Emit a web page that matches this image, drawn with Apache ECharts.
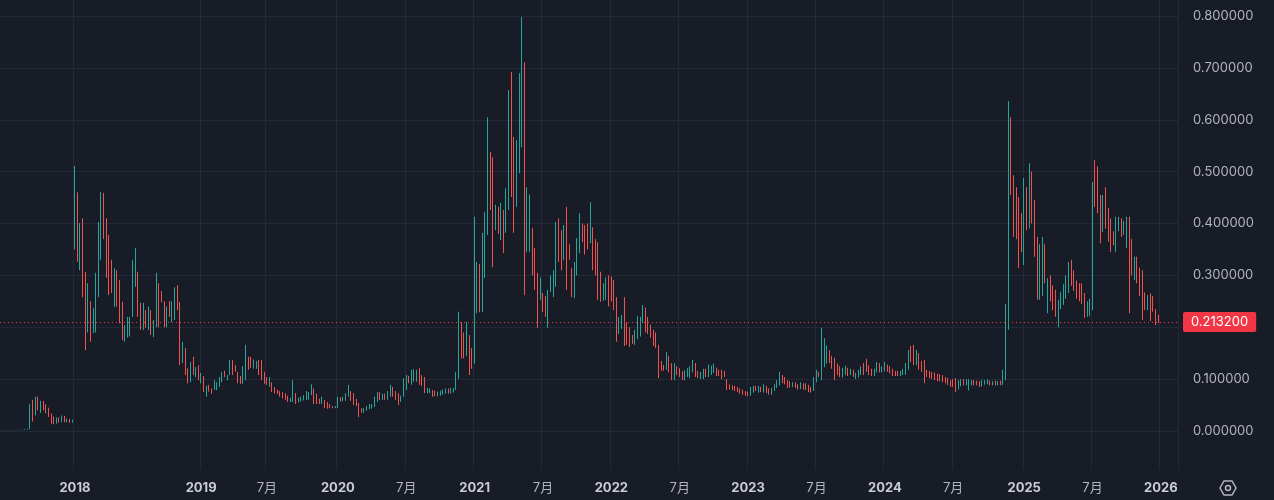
<!DOCTYPE html>
<html>
<head>
<meta charset="utf-8">
<title>Weekly candles</title>
<script src="https://cdn.jsdelivr.net/npm/echarts@6/dist/echarts.min.js"></script>
<style>
  html, body { margin: 0; padding: 0; background: #181c27; }
  #chart { width: 1274px; height: 500px; }
</style>
</head>
<body>
<div id="chart"></div>
<script>
  // weekly bars, Monday dates; July 2018 has no bars
  const firstWeek = '2017-06-19'
  const lastWeek = '2026-02-16'
  const missingWeeks = ['2018-07-02', '2018-07-09', '2018-07-16', '2018-07-23', '2018-07-30']

  // [open, close, low, high]
  const candles2017 = [
    [0.001,0.0012,0.0008,0.0015],[0.0012,0.0011,0.0009,0.0014],[0.0011,0.0013,0.001,0.0016],[0.0013,0.0012,0.001,0.0015],
    [0.0012,0.0015,0.0011,0.0018],[0.0015,0.0014,0.0012,0.0019],[0.0014,0.0016,0.0013,0.002],[0.0016,0.0018,0.0015,0.0022],
    [0.0018,0.0021,0.0016,0.0026],[0.0021,0.003,0.0019,0.0034],[0.003,0.0038,0.0026,0.0045],[0.0038,0.048,0.0035,0.052],
    [0.048,0.036,0.018,0.06],[0.036,0.06,0.03,0.066],[0.06,0.045,0.04,0.066],[0.045,0.055,0.035,0.058],
    [0.055,0.046,0.04,0.058],[0.046,0.038,0.034,0.052],[0.038,0.03,0.027,0.045],[0.03,0.024,0.014,0.034],
    [0.024,0.018,0.013,0.028],[0.018,0.024,0.014,0.026],[0.024,0.02,0.016,0.026],[0.02,0.028,0.017,0.03],
    [0.028,0.021,0.017,0.029],[0.019,0.022,0.017,0.024],[0.022,0.018,0.016,0.023],[0.018,0.02,0.016,0.022]
  ]
  const candles2018 = [
    [0.36,0.49,0.35,0.511],[0.46,0.33,0.326,0.46],[0.32,0.4,0.31,0.401],[0.4,0.27,0.258,0.41],
    [0.29,0.18,0.156,0.307],[0.2,0.28,0.19,0.285],[0.245,0.18,0.172,0.25],[0.19,0.235,0.189,0.237],
    [0.2,0.3,0.19,0.305],[0.29,0.4,0.258,0.403],[0.39,0.455,0.33,0.461],[0.455,0.39,0.37,0.459],
    [0.4,0.3,0.295,0.41],[0.34,0.27,0.262,0.378],[0.32,0.27,0.266,0.33],[0.25,0.31,0.239,0.314],
    [0.3,0.245,0.24,0.31],[0.285,0.21,0.208,0.291],[0.245,0.18,0.175,0.249],[0.18,0.2,0.172,0.204],
    [0.185,0.215,0.18,0.22],[0.19,0.218,0.182,0.22],[0.23,0.32,0.22,0.33],[0.29,0.35,0.278,0.353],
    [0.3,0.23,0.22,0.307],[0.245,0.2,0.195,0.247],[0.2,0.24,0.195,0.247],[0.23,0.2,0.199,0.233],
    [0.2,0.235,0.195,0.24],[0.23,0.19,0.185,0.233],[0.185,0.21,0.181,0.214],[0.21,0.3,0.2,0.305],
    [0.28,0.21,0.2,0.285],[0.27,0.25,0.248,0.27],[0.25,0.205,0.2,0.25],[0.205,0.235,0.2,0.24],
    [0.24,0.225,0.22,0.25],[0.225,0.245,0.21,0.25],[0.22,0.27,0.214,0.277],[0.275,0.24,0.233,0.281],
    [0.245,0.135,0.127,0.249],[0.135,0.17,0.131,0.172],[0.16,0.11,0.108,0.16],[0.12,0.095,0.092,0.121],
    [0.095,0.13,0.094,0.133],[0.14,0.11,0.108,0.143],[0.108,0.12,0.104,0.123],[0.125,0.1,0.098,0.127]
  ]
  const candles2019 = [
    [0.095,0.11,0.092,0.112],[0.104,0.085,0.075,0.106],[0.07,0.085,0.066,0.087],[0.085,0.08,0.076,0.089],
    [0.08,0.075,0.072,0.082],[0.08,0.095,0.079,0.098],[0.082,0.092,0.079,0.094],[0.088,0.102,0.085,0.104],
    [0.098,0.112,0.094,0.114],[0.115,0.105,0.104,0.116],[0.1,0.106,0.098,0.108],[0.11,0.135,0.108,0.137],
    [0.135,0.11,0.108,0.137],[0.125,0.115,0.114,0.127],[0.112,0.095,0.092,0.114],[0.104,0.092,0.091,0.106],
    [0.092,0.123,0.091,0.125],[0.1,0.163,0.098,0.166],[0.14,0.12,0.118,0.143],[0.142,0.124,0.122,0.143],
    [0.125,0.135,0.12,0.138],[0.126,0.132,0.12,0.135],[0.135,0.115,0.108,0.137],[0.135,0.1,0.098,0.137],
    [0.112,0.093,0.091,0.114],[0.102,0.09,0.089,0.104],[0.088,0.1,0.085,0.104],[0.092,0.077,0.075,0.094],
    [0.082,0.075,0.072,0.085],[0.079,0.072,0.071,0.08],[0.076,0.067,0.066,0.077],[0.073,0.065,0.063,0.075],
    [0.07,0.061,0.06,0.073],[0.066,0.058,0.056,0.068],[0.058,0.062,0.056,0.064],[0.06,0.095,0.056,0.098],
    [0.07,0.055,0.052,0.073],[0.056,0.062,0.055,0.064],[0.058,0.064,0.057,0.066],[0.06,0.067,0.059,0.069],
    [0.062,0.075,0.06,0.077],[0.064,0.073,0.06,0.075],[0.07,0.088,0.069,0.09],[0.08,0.056,0.052,0.082],
    [0.07,0.055,0.052,0.072],[0.06,0.053,0.052,0.062],[0.054,0.064,0.052,0.066],[0.058,0.046,0.044,0.06],
    [0.054,0.046,0.043,0.056],[0.05,0.045,0.044,0.052],[0.047,0.045,0.044,0.048],[0.045,0.047,0.044,0.048]
  ]
  const candles2020 = [
    [0.045,0.064,0.044,0.066],[0.064,0.058,0.057,0.065],[0.058,0.063,0.057,0.066],[0.06,0.072,0.058,0.073],
    [0.068,0.087,0.066,0.089],[0.075,0.06,0.058,0.077],[0.07,0.052,0.05,0.073],[0.06,0.05,0.048,0.062],
    [0.052,0.03,0.027,0.054],[0.043,0.036,0.035,0.044],[0.036,0.043,0.035,0.044],[0.04,0.047,0.039,0.048],
    [0.043,0.05,0.042,0.052],[0.044,0.051,0.043,0.052],[0.048,0.064,0.046,0.066],[0.058,0.073,0.056,0.075],
    [0.073,0.062,0.06,0.075],[0.062,0.07,0.06,0.072],[0.07,0.063,0.06,0.072],[0.062,0.075,0.06,0.077],
    [0.068,0.087,0.066,0.089],[0.083,0.07,0.066,0.085],[0.076,0.062,0.06,0.077],[0.072,0.052,0.05,0.073],
    [0.058,0.066,0.056,0.068],[0.066,0.098,0.066,0.102],[0.09,0.105,0.079,0.108],[0.103,0.094,0.092,0.106],
    [0.095,0.115,0.089,0.118],[0.1,0.114,0.095,0.119],[0.102,0.116,0.095,0.118],[0.12,0.092,0.089,0.121],
    [0.105,0.09,0.087,0.108],[0.098,0.076,0.073,0.104],[0.077,0.08,0.073,0.083],[0.076,0.08,0.073,0.082],
    [0.077,0.07,0.066,0.079],[0.077,0.069,0.067,0.078],[0.069,0.074,0.067,0.076],[0.07,0.076,0.068,0.078],
    [0.072,0.078,0.07,0.08],[0.074,0.079,0.072,0.082],[0.08,0.074,0.072,0.082],[0.073,0.082,0.072,0.083],
    [0.076,0.081,0.074,0.083],[0.08,0.11,0.079,0.114],[0.105,0.2,0.1,0.23],[0.2,0.16,0.14,0.21],
    [0.17,0.15,0.14,0.19],[0.15,0.19,0.145,0.21],[0.18,0.12,0.108,0.185],[0.15,0.125,0.12,0.16]
  ]
  const candles2021 = [
    [0.14,0.3,0.13,0.413],[0.235,0.32,0.227,0.326],[0.32,0.235,0.229,0.322],[0.235,0.38,0.229,0.382],
    [0.3,0.42,0.295,0.422],[0.4,0.53,0.378,0.605],[0.53,0.44,0.426,0.538],[0.52,0.33,0.316,0.528],
    [0.39,0.43,0.387,0.436],[0.43,0.385,0.38,0.432],[0.37,0.43,0.368,0.44],[0.42,0.35,0.343,0.426],
    [0.385,0.46,0.382,0.468],[0.43,0.64,0.426,0.657],[0.68,0.46,0.451,0.692],[0.56,0.39,0.382,0.567],
    [0.44,0.55,0.432,0.561],[0.5,0.68,0.497,0.69],[0.55,0.79,0.547,0.798],[0.7,0.28,0.262,0.711],
    [0.35,0.46,0.345,0.47],[0.35,0.45,0.345,0.456],[0.39,0.305,0.3,0.391],[0.35,0.275,0.272,0.353],
    [0.3,0.205,0.199,0.305],[0.255,0.29,0.253,0.296],[0.265,0.232,0.229,0.266],[0.26,0.225,0.22,0.26],
    [0.205,0.27,0.199,0.272],[0.27,0.295,0.268,0.3],[0.26,0.3,0.258,0.31],[0.28,0.4,0.278,0.403],
    [0.41,0.33,0.326,0.41],[0.38,0.33,0.31,0.387],[0.33,0.39,0.33,0.397],[0.43,0.28,0.272,0.432],
    [0.35,0.33,0.33,0.36],[0.31,0.26,0.258,0.314],[0.27,0.31,0.256,0.326],[0.31,0.36,0.3,0.372],
    [0.345,0.42,0.343,0.42],[0.4,0.37,0.364,0.4],[0.39,0.345,0.34,0.397],[0.4,0.36,0.35,0.4],
    [0.365,0.44,0.362,0.441],[0.39,0.31,0.31,0.393],[0.36,0.3,0.3,0.37],[0.36,0.255,0.253,0.364],
    [0.3,0.255,0.249,0.307],[0.255,0.28,0.251,0.285],[0.26,0.29,0.253,0.296],[0.3,0.245,0.24,0.3]
  ]
  const candles2022 = [
    [0.29,0.25,0.25,0.298],[0.29,0.235,0.233,0.291],[0.255,0.175,0.172,0.258],[0.19,0.215,0.187,0.22],
    [0.2,0.222,0.197,0.224],[0.23,0.17,0.164,0.258],[0.2,0.17,0.166,0.21],[0.19,0.165,0.162,0.2],
    [0.18,0.17,0.168,0.185],[0.17,0.19,0.166,0.195],[0.18,0.21,0.177,0.222],[0.19,0.21,0.182,0.22],
    [0.21,0.24,0.208,0.243],[0.235,0.205,0.19,0.238],[0.21,0.19,0.187,0.22],[0.2,0.18,0.18,0.205],
    [0.19,0.17,0.164,0.195],[0.18,0.165,0.16,0.19],[0.16,0.105,0.102,0.166],[0.13,0.118,0.116,0.135],
    [0.125,0.117,0.116,0.127],[0.12,0.145,0.118,0.152],[0.14,0.12,0.113,0.145],[0.125,0.1,0.098,0.131],
    [0.1,0.125,0.098,0.131],[0.12,0.11,0.108,0.125],[0.115,0.105,0.104,0.121],[0.11,0.102,0.098,0.115],
    [0.1,0.114,0.098,0.117],[0.106,0.118,0.104,0.121],[0.104,0.122,0.102,0.125],[0.115,0.135,0.113,0.137],
    [0.128,0.106,0.104,0.131],[0.112,0.103,0.102,0.116],[0.102,0.11,0.1,0.114],[0.104,0.118,0.1,0.12],
    [0.118,0.106,0.104,0.12],[0.106,0.125,0.104,0.128],[0.11,0.124,0.108,0.126],[0.115,0.128,0.112,0.13],
    [0.12,0.11,0.106,0.122],[0.115,0.107,0.106,0.118],[0.115,0.102,0.1,0.118],[0.11,0.105,0.104,0.116],
    [0.098,0.08,0.079,0.1],[0.088,0.082,0.08,0.09],[0.087,0.08,0.079,0.088],[0.085,0.078,0.077,0.087],
    [0.083,0.076,0.075,0.085],[0.08,0.073,0.072,0.082],[0.078,0.071,0.07,0.08],[0.076,0.069,0.068,0.077]
  ]
  const candles2023 = [
    [0.074,0.068,0.067,0.076],[0.07,0.08,0.068,0.085],[0.076,0.084,0.074,0.087],[0.085,0.08,0.077,0.087],
    [0.078,0.085,0.074,0.087],[0.084,0.077,0.075,0.085],[0.077,0.088,0.074,0.09],[0.085,0.077,0.073,0.087],
    [0.08,0.072,0.07,0.082],[0.072,0.08,0.07,0.083],[0.078,0.088,0.077,0.09],[0.085,0.095,0.083,0.098],
    [0.09,0.11,0.088,0.114],[0.105,0.095,0.092,0.108],[0.1,0.092,0.09,0.104],[0.095,0.085,0.083,0.098],
    [0.092,0.086,0.084,0.096],[0.086,0.092,0.085,0.094],[0.092,0.085,0.083,0.094],[0.088,0.082,0.08,0.09],
    [0.083,0.09,0.081,0.094],[0.09,0.083,0.08,0.092],[0.088,0.08,0.079,0.092],[0.085,0.077,0.075,0.089],
    [0.082,0.076,0.074,0.085],[0.078,0.1,0.077,0.104],[0.095,0.115,0.094,0.118],[0.112,0.108,0.104,0.114],
    [0.105,0.16,0.098,0.199],[0.13,0.17,0.123,0.179],[0.14,0.16,0.13,0.165],[0.155,0.135,0.131,0.156],
    [0.14,0.125,0.12,0.145],[0.13,0.1,0.098,0.141],[0.12,0.11,0.108,0.13],[0.118,0.105,0.104,0.125],
    [0.105,0.12,0.103,0.122],[0.11,0.12,0.108,0.126],[0.12,0.11,0.106,0.122],[0.11,0.118,0.108,0.12],
    [0.115,0.105,0.104,0.118],[0.102,0.11,0.1,0.112],[0.105,0.115,0.103,0.118],[0.11,0.12,0.108,0.125],
    [0.125,0.11,0.108,0.131],[0.135,0.115,0.114,0.139],[0.12,0.11,0.108,0.127],[0.115,0.108,0.106,0.12],
    [0.108,0.118,0.106,0.12],[0.115,0.13,0.113,0.133],[0.13,0.115,0.113,0.131],[0.115,0.122,0.113,0.125]
  ]
  const candles2024 = [
    [0.12,0.13,0.115,0.133],[0.125,0.118,0.114,0.128],[0.12,0.113,0.111,0.125],[0.118,0.108,0.106,0.12],
    [0.113,0.108,0.106,0.116],[0.112,0.107,0.106,0.116],[0.107,0.112,0.106,0.116],[0.109,0.116,0.108,0.12],
    [0.112,0.125,0.108,0.131],[0.12,0.15,0.118,0.156],[0.16,0.135,0.133,0.164],[0.165,0.13,0.127,0.166],
    [0.13,0.15,0.127,0.156],[0.145,0.125,0.118,0.15],[0.13,0.115,0.114,0.135],[0.13,0.095,0.092,0.137],
    [0.115,0.105,0.104,0.118],[0.112,0.104,0.102,0.116],[0.11,0.102,0.1,0.114],[0.108,0.1,0.098,0.113],
    [0.106,0.099,0.096,0.11],[0.105,0.097,0.096,0.11],[0.104,0.095,0.094,0.108],[0.1,0.093,0.092,0.104],
    [0.098,0.09,0.089,0.102],[0.097,0.088,0.085,0.098],[0.096,0.088,0.085,0.1],[0.095,0.08,0.075,0.102],
    [0.082,0.094,0.08,0.098],[0.088,0.098,0.086,0.1],[0.098,0.09,0.088,0.1],[0.09,0.097,0.088,0.1],
    [0.085,0.096,0.078,0.1],[0.09,0.096,0.088,0.098],[0.096,0.09,0.088,0.098],[0.095,0.089,0.088,0.097],
    [0.094,0.087,0.085,0.096],[0.088,0.095,0.086,0.098],[0.09,0.096,0.089,0.098],[0.092,0.098,0.09,0.1],
    [0.096,0.09,0.088,0.097],[0.09,0.095,0.088,0.096],[0.095,0.089,0.088,0.097],[0.089,0.094,0.088,0.096],
    [0.094,0.089,0.088,0.097],[0.09,0.115,0.089,0.118],[0.11,0.24,0.098,0.245],[0.24,0.58,0.195,0.636],
    [0.58,0.47,0.455,0.605],[0.47,0.38,0.374,0.493],[0.46,0.37,0.37,0.47],[0.44,0.32,0.314,0.451],
    [0.4,0.35,0.345,0.42]
  ]
  const candles2025 = [
    [0.33,0.47,0.32,0.488],[0.45,0.4,0.387,0.47],[0.4,0.5,0.391,0.516],[0.49,0.41,0.4,0.5],
    [0.43,0.34,0.336,0.445],[0.37,0.26,0.253,0.374],[0.26,0.35,0.253,0.36],[0.27,0.37,0.26,0.374],
    [0.35,0.29,0.285,0.36],[0.235,0.29,0.227,0.295],[0.29,0.26,0.25,0.3],[0.28,0.24,0.233,0.281],
    [0.27,0.23,0.22,0.272],[0.21,0.245,0.2,0.253],[0.24,0.265,0.235,0.268],[0.25,0.28,0.243,0.283],
    [0.26,0.295,0.255,0.3],[0.28,0.32,0.266,0.326],[0.32,0.29,0.28,0.33],[0.3,0.275,0.27,0.31],
    [0.285,0.26,0.255,0.29],[0.28,0.255,0.25,0.285],[0.275,0.25,0.245,0.285],[0.26,0.225,0.218,0.266],
    [0.225,0.245,0.22,0.25],[0.23,0.25,0.222,0.255],[0.25,0.47,0.233,0.48],[0.49,0.44,0.432,0.522],
    [0.5,0.43,0.42,0.51],[0.45,0.37,0.362,0.455],[0.385,0.44,0.384,0.455],[0.44,0.4,0.39,0.47],
    [0.42,0.37,0.365,0.43],[0.39,0.35,0.345,0.41],[0.38,0.36,0.358,0.385],[0.35,0.4,0.345,0.413],
    [0.39,0.41,0.385,0.413],[0.41,0.38,0.374,0.41],[0.38,0.4,0.378,0.405],[0.36,0.41,0.353,0.413],
    [0.41,0.24,0.227,0.413],[0.36,0.31,0.3,0.37],[0.295,0.33,0.291,0.336],[0.335,0.29,0.285,0.336],
    [0.31,0.27,0.26,0.315],[0.3,0.22,0.214,0.31],[0.26,0.235,0.233,0.267],[0.235,0.26,0.233,0.262],
    [0.26,0.22,0.212,0.265],[0.255,0.235,0.23,0.26],[0.233,0.215,0.204,0.235],[0.222,0.2132,0.208,0.224]
  ]
  const yTicks = [0, 0.8, 0.1] // min, max, step

  const candles = [].concat(candles2017, candles2018, candles2019, candles2020, candles2021,
    candles2022, candles2023, candles2024, candles2025)
  const lastClose = candles[candles.length - 1][1]

  const weeks = []
  for (let t = Date.parse(firstWeek); t <= Date.parse(lastWeek); t += 7 * 864e5) {
    const d = new Date(t).toISOString().slice(0, 10)
    if (!missingWeeks.includes(d)) weeks.push(d)
  }

  // label the first bar of a year and the first bar of July
  function isMark(i) {
    const d = weeks[i], p = weeks[i - 1]
    if (!p || d < '2018') return false
    return d.slice(0, 4) !== p.slice(0, 4) || (d.slice(5, 7) === '07' && p.slice(5, 7) !== '07')
  }

  const upColor = '#26a69a'
  const downColor = '#ef5350'
  const gridColor = '#242937'
  const textColor = '#b2b5be'
  const font = "Inter, 'Noto Sans CJK SC', sans-serif"

  let myChart = echarts.init(document.getElementById('chart'))
  let option = {
    animation: false,
    backgroundColor: '#181c27',
    grid: [
      { left: -1, right: 96, top: 16, bottom: 69 },
      { left: -1, right: 96, top: 0, bottom: 30 }
    ],
    xAxis: [{
      type: 'category',
      gridIndex: 0,
      data: weeks,
      show: false
    }, {
      type: 'category',
      gridIndex: 1,
      data: weeks,
      axisLine: { show: false },
      axisTick: { show: false },
      axisLabel: {
        interval: (i) => isMark(i),
        margin: 12,
        fontFamily: font,
        formatter: (v) => v.slice(5, 7) === '07' ? '{m|7月}' : '{y|' + v.slice(0, 4) + '}',
        rich: {
          y: { fontSize: 13, fontWeight: 'bold', color: '#c9ccd3', fontFamily: font },
          m: { fontSize: 13, color: textColor, fontFamily: font }
        }
      },
      splitLine: {
        show: true,
        interval: (i) => isMark(i),
        lineStyle: { color: gridColor, width: 1 }
      }
    }],
    yAxis: [{
      type: 'value',
      gridIndex: 0,
      position: 'right',
      min: yTicks[0],
      max: yTicks[1],
      interval: yTicks[2],
      axisLine: { show: false },
      axisTick: { show: false },
      axisLabel: {
        margin: 15,
        color: textColor,
        fontSize: 13,
        fontFamily: font,
        formatter: (v) => v.toFixed(6)
      },
      splitLine: { lineStyle: { color: gridColor, width: 1 } }
    }, {
      type: 'value',
      gridIndex: 1,
      min: 0,
      max: 1,
      show: false
    }],
    series: [{
      type: 'candlestick',
      xAxisIndex: 0,
      yAxisIndex: 0,
      data: candles,
      barWidth: 1,
      clip: false,
      itemStyle: {
        color: upColor,
        color0: downColor,
        borderColor: upColor,
        borderColor0: downColor,
        borderWidth: 1
      },
      markLine: {
        silent: true,
        symbol: ['none', 'none'],
        data: [{ yAxis: lastClose }],
        lineStyle: { color: '#f23645', type: [1, 3], width: 1 },
        label: {
          position: 'end',
          formatter: lastClose.toFixed(6),
          color: '#ffffff',
          backgroundColor: '#f23645',
          fontSize: 13,
          fontFamily: font,
          lineHeight: 14,
          padding: [3, 8, 3, 8],
          borderRadius: 2
        }
      }
    }],
    graphic: [{
      type: 'polygon',
      shape: { points: [[1220, 488], [1224, 481], [1232, 481], [1236, 488], [1232, 495], [1224, 495]] },
      style: { fill: 'none', stroke: textColor, lineWidth: 1.5 }
    }, {
      type: 'circle',
      shape: { cx: 1228, cy: 488, r: 2.5 },
      style: { fill: 'none', stroke: textColor, lineWidth: 1.5 }
    }]
  }
  myChart.setOption(option)
</script>
</body>
</html>
